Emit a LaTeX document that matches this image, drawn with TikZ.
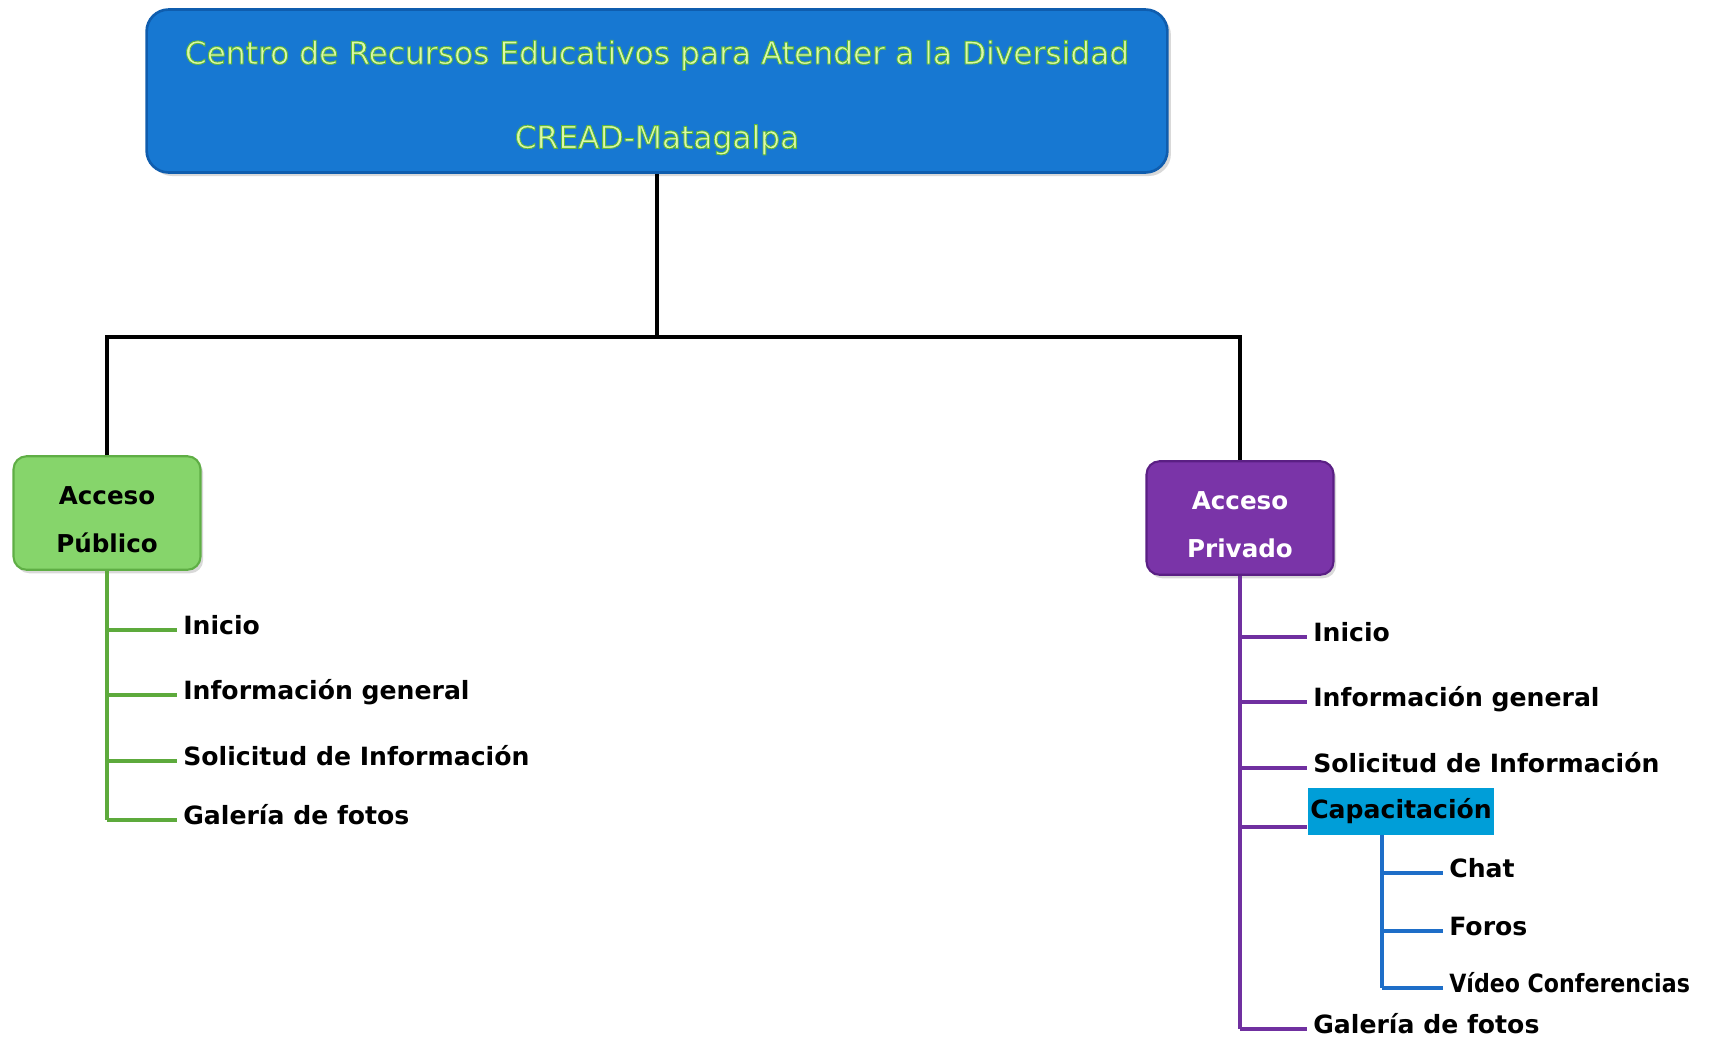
\documentclass[tikz,border=0pt]{standalone}
\usepackage{fontspec}
\setmainfont{DejaVu Sans}
\usepackage{tikz}
\usetikzlibrary{shadows}
\definecolor{ttlblue}{HTML}{1778D2}
\definecolor{ttledge}{HTML}{0F5DAE}
\definecolor{ttltext}{HTML}{DDF9A8}
\definecolor{ttlglow}{HTML}{5FB83A}
\definecolor{pubfill}{HTML}{86D56B}
\definecolor{pubedge}{HTML}{5FAE45}
\definecolor{privfill}{HTML}{7A34A8}
\definecolor{privedge}{HTML}{5A1F84}
\definecolor{grnline}{HTML}{5DAA3C}
\definecolor{prpline}{HTML}{7030A0}
\definecolor{bluline}{HTML}{1E6EC8}
\definecolor{capfill}{HTML}{009ED8}
\newcommand{\glowtext}[1]{\special{pdf:code 2 Tr 0.5 w 0.373 0.722 0.227 RG}#1\special{pdf:code 0 Tr}}

\begin{document}
\begin{tikzpicture}[x=0.02cm, y=-0.02cm,
		accbox/.style={rounded corners=0.26cm, line width=1.2pt, minimum width=3.74cm, minimum height=2.27cm,
			align=center, font=\fontsize{14}{27.5}\selectfont\bfseries,
			drop shadow={opacity=0.3, shadow xshift=1.5pt, shadow yshift=-2pt}},
		item/.style={font=\fontsize{14.3}{17}\selectfont\bfseries, inner xsep=3.4pt, inner ysep=0pt, anchor=base west},
		trunk/.style={line width=2.2pt, black},
		twig/.style={line width=2.4pt}]
				\useasboundingbox (0,0) rectangle (1712,1038);
				% top box
				\node[rounded corners=0.44cm, fill=ttlblue, draw=ttledge, line width=1.5pt,
					minimum width=20.42cm, minimum height=3.26cm, align=center,
					font=\fontsize{17.8}{48}\selectfont, text=ttltext,
					drop shadow={opacity=0.3, shadow xshift=2pt, shadow yshift=-2pt}] (title) at (657,91)
					{\rule{0pt}{21pt}\glowtext{Centro de Recursos Educativos para Atender a la Diversidad}\\
					 \glowtext{CREAD-Matagalpa}};
				\node[accbox, fill=pubfill, draw=pubedge] (pub) at (107,513) {\rule{0pt}{17.5pt}Acceso\\Público};
				\node[accbox, fill=privfill, draw=privedge, text=white] (priv) at (1240,518) {\rule{0pt}{17.5pt}Acceso\\Privado};
				\coordinate (busl) at (pub.north |- 0,337);
				\coordinate (busr) at (priv.north |- 0,337);
				\draw[trunk] (title.south) -- (title.south |- busl);
				\draw[trunk] (pub.north) -- (busl) -- (busr) -- (priv.north);
				% acceso publico
				\foreach \y/\t [count=\i] in {630/Inicio, 695/Información general, 761/Solicitud de Información, 820/Galería de fotos} {
					\coordinate (pb\i) at (pub.south |- 0,\y);
					\node[item] (pi\i) at (177,\y+4) {\t};
					\draw[twig, grnline] (pb\i) -- (pb\i -| pi\i.west);
				}
				\draw[twig, grnline] (pub.south) -- (pb4);
				% acceso privado
				\foreach \y/\t [count=\i] in {637/Inicio, 702/Información general, 768/Solicitud de Información, 1029/Galería de fotos} {
					\coordinate (pr\i) at (priv.south |- 0,\y);
					\node[item] (ri\i) at (1307,\y+4) {\t};
					\draw[twig, prpline] (pr\i) -- (pr\i -| ri\i.west);
				}
				\node[fill=capfill, minimum width=3.74cm, minimum height=0.94cm, inner sep=0pt,
					font=\fontsize{14.3}{17}\selectfont\bfseries] (capac) at (1401,811) {Capacitación};
				\coordinate (pr5) at (priv.south |- 0,827);
				\draw[twig, prpline] (pr5) -- (pr5 -| capac.west);
				\draw[twig, prpline] (priv.south) -- (pr4);
				% capacitacion
				\foreach \y/\t [count=\i] in {873/Chat, 931/Foros, 988/{\scalebox{0.88}[1]{Vídeo Conferencias}}} {
					\coordinate (cs\i) at (1382,\y);
					\node[item] (ci\i) at (1443,\y+4) {\t};
					\draw[twig, bluline] (cs\i) -- (cs\i -| ci\i.west);
				}
				\draw[twig, bluline] (cs3 |- capac.south) -- (cs3);
			\end{tikzpicture}
\end{document}
